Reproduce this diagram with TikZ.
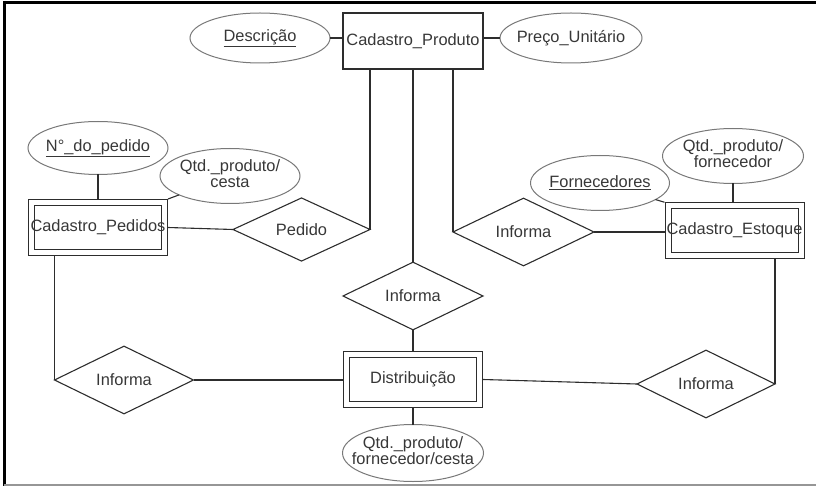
\documentclass[tikz,border=0pt]{standalone}
\usepackage{fontspec}
\setmainfont{Liberation Sans}
\usetikzlibrary{shapes.geometric}
\definecolor{txt}{RGB}{55,55,55}
\definecolor{edge}{RGB}{45,45,45}
\definecolor{ell}{RGB}{120,120,120}
\definecolor{bottomline}{RGB}{150,150,150}
\newcommand{\twolines}[2]{\makebox[0pt]{\begin{tabular}{@{}c@{}}#1\\#2\end{tabular}}}
\newcommand{\oneline}[1]{\makebox[0pt]{#1}}
\begin{document}
\begin{tikzpicture}[x=1pt,y=-1pt,
  every node/.style={font=\fontsize{16.4}{16.5}\selectfont, text=txt, inner sep=0pt},
  entity/.style={draw=edge, line width=1.1pt, rectangle, minimum width=140pt, minimum height=56pt, outer sep=0pt},
  weak/.style={draw=edge, line width=1pt, double=white, double distance=5pt, rectangle, minimum width=133pt, minimum height=50pt, outer sep=3.5pt},
  attr/.style={draw=ell, line width=1pt, ellipse, minimum width=140pt, minimum height=52pt, outer sep=0pt},
  rel/.style={draw=edge, line width=1.1pt, diamond, minimum width=139pt, minimum height=55pt, outer sep=0pt},
  link/.style={draw=edge, line width=1.1pt}]
\useasboundingbox (0,0) rectangle (816,486);
% frame of the screenshot
\draw[line width=3pt, black] (3.3,2.5) -- (816,2.5);
\draw[line width=3pt, black] (4.8,1) -- (4.8,486);
\draw[line width=2pt, bottomline] (4,484.5) -- (816,484.5);

% entities
\node[entity] (prod) at (413,41) {\oneline{Cadastro\_Produto}};
\node[weak] (ped) at (98,227.5) {\oneline{Cadastro\_Pedidos}};
\node[weak] (est) at (734.5,230.75) {\oneline{Cadastro\_Estoque}};
\node[weak] (dist) at (413,379.5) {\oneline{Distribuição}};

% attributes
\node[attr, minimum width=140pt, minimum height=50pt] (desc) at (260,38) {\oneline{\underline{Descrição}}};
\node[attr, minimum width=142pt, minimum height=50pt] (preco) at (571,38) {\oneline{Preço\_Unitário}};
\node[attr, minimum width=140pt, minimum height=53pt] (npe) at (98,148) {\oneline{\underline{N°\_do\_pedido}}};
\node[attr, minimum width=140pt, minimum height=55pt] (qc) at (230,176) {\twolines{Qtd.\_produto/}{cesta}};
\node[attr, minimum width=139pt, minimum height=55pt] (forn) at (600,183) {\oneline{\underline{Fornecedores}}};
\node[attr, minimum width=141pt, minimum height=55pt] (qf) at (733,156) {\twolines{Qtd.\_produto/}{fornecedor}};
\node[attr, minimum width=141pt, minimum height=57pt] (qfc) at (413,453) {\twolines{Qtd.\_produto/}{fornecedor/cesta}};

% relationships
\node[rel, minimum width=137pt] (pedido) at (301.5,229.5) {Pedido};
\node[rel, minimum width=141pt] (inf1) at (523.5,232) {Informa};
\node[rel, minimum width=140pt] (inf2) at (413,296) {Informa};
\node[rel, minimum width=139pt, minimum height=56pt] (inf3) at (124,380) {Informa};
\node[rel, minimum width=138pt, minimum height=56pt] (inf4) at (706,384) {Informa};

% connectors
\draw[link] (desc.east) -- (desc.east -| prod.west);
\draw[link] (preco.west -| prod.east) -- (preco.west);
\draw[link] (pedido.east) -- (pedido.east |- prod.south);
\draw[link] (inf2.north) -- (prod.south);
\draw[link] (inf1.west) -- (inf1.west |- prod.south);
\draw[link] (ped.east) -- (pedido.west);
\draw[link] (inf1.east) -- (inf1.east -| est.west);
\draw[link] (npe.south) -- (ped.north);
\draw[link] (ped.north east) -- (qc);
\draw[link] (est.north west) -- (forn);
\draw[link] (qf.south) -- (qf.south |- est.north);
\draw[link] (inf2.south) -- (dist.north);
\draw[link] (dist.south) -- (qfc.north);
\draw[link] (inf3.west) -- (inf3.west |- ped.south);
\draw[link] (inf3.east) -- (inf3.east -| dist.west);
\draw[link] (dist.east) -- (inf4.west);
\draw[link] (inf4.east) -- (inf4.east |- est.south);
\end{tikzpicture}
\end{document}
